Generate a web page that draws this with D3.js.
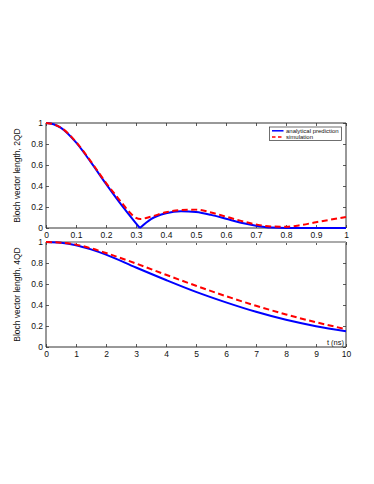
<!DOCTYPE html>
<html><head><meta charset="utf-8">
<script src="https://cdn.jsdelivr.net/npm/d3@7"></script>
<style>
body{margin:0;background:#fff}
svg{display:block;background:#fff}
text{font-family:"Liberation Sans",Arial,Helvetica,sans-serif;fill:#111}
</style>
</head><body>
<svg id="c" width="374" height="484"></svg>
<script>
// ---- data ----
const tTopAnalytical = [0,0.025,0.05,0.1,0.15,0.2,0.25,0.3,0.313,0.35,0.4,0.45,0.5,0.55,0.6,0.65,0.7,0.75,0.8,0.85,0.9,0.95,1];
const analyticalTop  = [1,0.988,0.953,0.815,0.625,0.42,0.225,0.045,0,0.085,0.14,0.16,0.152,0.125,0.088,0.05,0.022,0.004,0,0,0,0,0];
const tTopSimulation = [0,0.025,0.05,0.1,0.15,0.2,0.25,0.28,0.3,0.315,0.35,0.4,0.45,0.5,0.55,0.6,0.65,0.7,0.75,0.8,0.85,0.9,0.95,1];
const simulationTop  = [1,0.988,0.955,0.82,0.632,0.43,0.25,0.145,0.097,0.086,0.108,0.15,0.172,0.175,0.148,0.108,0.068,0.034,0.014,0.012,0.028,0.055,0.08,0.105];

const tBottom          = [0,0.5,1,1.5,2,3,4,5,6,7,8,9,10];
const analyticalBottom = [1,0.993,0.97,0.93,0.88,0.757,0.638,0.525,0.425,0.335,0.259,0.198,0.15];
const simulationBottom = [1,0.994,0.975,0.94,0.895,0.795,0.688,0.583,0.484,0.393,0.31,0.236,0.17];

const xTicksTop = [0,0.1,0.2,0.3,0.4,0.5,0.6,0.7,0.8,0.9,1];
const xTicksBottom = [0,1,2,3,4,5,6,7,8,9,10];
const yTicks = [0,0.2,0.4,0.6,0.8,1];
const seriesNames = ["analytical prediction","simulation"];
const yTitles = ["Bloch vector length, 2QD","Bloch vector length, 4QD"];
const xUnitLabel = "t (ns)";

// ---- drawing ----
const svg = d3.select("#c");
const L = 46, R = 346;
const panels = [
  {top:123, bottom:228, xDomain:[0,1], xTicks:xTicksTop, fmt:d=>d3.format("")(d),
   series:[{t:tTopAnalytical, v:analyticalTop, split:true}, {t:tTopSimulation, v:simulationTop}], title:yTitles[0], topColor:"#333", topWidth:1},
  {top:242, bottom:347, xDomain:[0,10], xTicks:xTicksBottom, fmt:d=>String(d),
   series:[{t:tBottom, v:analyticalBottom}, {t:tBottom, v:simulationBottom}], title:yTitles[1], topColor:"#aaa", topWidth:2.2}
];
const colors = ["#0000ff","#ff0000"];
const dashes = [null,"6,3.5"];

panels.forEach((p,pi)=>{
  const x = d3.scaleLinear().domain(p.xDomain).range([L,R]);
  const y = d3.scaleLinear().domain([0,1]).range([p.bottom,p.top]);
  const g = svg.append("g");

  const ax = (gen, tr)=>{
    const a = g.append("g").attr("transform",tr).call(gen);
    a.select(".domain").remove();
    a.selectAll("line").attr("stroke","#333").attr("stroke-width",0.8);
    a.selectAll("text").style("font-size","8.5px").attr("fill","#111");
    return a;
  };
  ax(d3.axisBottom(x).tickValues(p.xTicks).tickFormat(p.fmt).tickSizeInner(-3).tickSizeOuter(0).tickPadding(3.5), `translate(0,${p.bottom})`);
  ax(d3.axisTop(x).tickValues(p.xTicks).tickFormat("").tickSizeInner(-3).tickSizeOuter(0), `translate(0,${p.top})`);
  ax(d3.axisLeft(y).tickValues(yTicks).tickFormat(d3.format("")).tickSizeInner(-3).tickSizeOuter(0).tickPadding(3), `translate(${L},0)`);
  ax(d3.axisRight(y).tickValues(yTicks).tickFormat("").tickSizeInner(-3).tickSizeOuter(0), `translate(${R},0)`);

  g.append("line").attr("x1",L).attr("x2",R).attr("y1",p.bottom).attr("y2",p.bottom).attr("stroke","#333").attr("stroke-width",1);
  g.append("line").attr("x1",L).attr("x2",L).attr("y1",p.top).attr("y2",p.bottom).attr("stroke","#333").attr("stroke-width",1);
  g.append("line").attr("x1",R).attr("x2",R).attr("y1",p.top).attr("y2",p.bottom).attr("stroke","#333").attr("stroke-width",1);
  g.append("line").attr("x1",L).attr("x2",R).attr("y1",p.top).attr("y2",p.top).attr("stroke",p.topColor).attr("stroke-width",p.topWidth);

  const line = d3.line().x(d=>x(d[0])).y(d=>y(d[1])).curve(d3.curveMonotoneX);
  p.series.forEach((s,si)=>{
    const pts = s.t.map((t,i)=>[t,s.v[i]]);
    let segs = [pts];
    if (s.split){
      let mi = 0; for (let i=1;i<pts.length;i++){ if (pts[i][0] < 0.5 && pts[i][1] < pts[mi][1]) mi = i; }
      segs = [pts.slice(0,mi+1), pts.slice(mi)];
    }
    segs.forEach(sg=>{
      g.append("path").attr("d",line(sg)).attr("fill","none")
        .attr("stroke",colors[si]).attr("stroke-width",2)
        .attr("stroke-dasharray",dashes[si]);
    });
  });

  const cy = (p.top+p.bottom)/2;
  g.append("text").attr("transform",`translate(20,${cy}) rotate(-90)`)
    .attr("text-anchor","middle").style("font-size","8.5px").text(p.title);
});

const lg = svg.append("g");
lg.append("rect").attr("x",269.5).attr("y",127).attr("width",72).attr("height",13.5)
  .attr("fill","#fff").attr("stroke","#333").attr("stroke-width",0.7);
seriesNames.forEach((n,i)=>{
  const yy = 130.8 + i*6.3;
  lg.append("line").attr("x1",272).attr("x2",283.5).attr("y1",yy).attr("y2",yy)
    .attr("stroke",colors[i]).attr("stroke-width",1.5).attr("stroke-dasharray",i? "3.5,2.5":null);
  lg.append("text").attr("x",286).attr("y",yy+2.1).style("font-size","6px").text(n);
});

svg.append("text").attr("x",344).attr("y",345).attr("text-anchor","end").style("font-size","7.5px").text(xUnitLabel);
</script>
</body></html>
